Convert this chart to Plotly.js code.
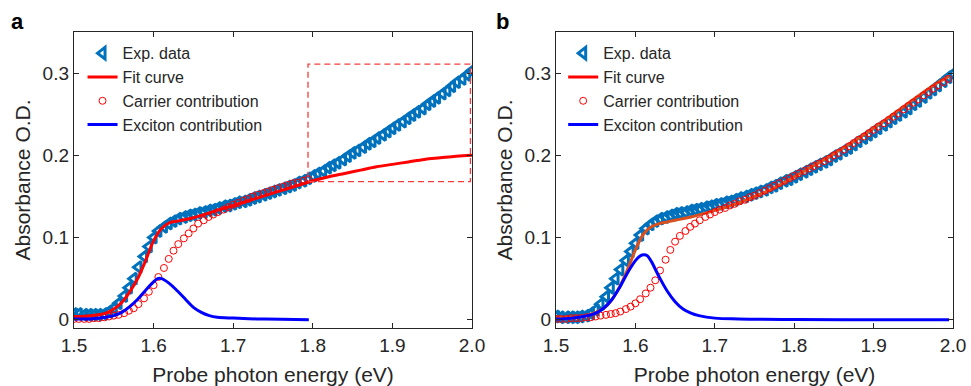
<!DOCTYPE html>
<html>
<head>
<meta charset="utf-8">
<script src="https://cdn.plot.ly/plotly-3.0.1.min.js"></script>
<style>html,body{margin:0;padding:0;background:#fff;}#chart{width:971px;height:386px;}</style>
</head>
<body>
<div id="chart"></div>
<script>
// ---------- data ----------
const energy = [1.500,1.506,1.513,1.519,1.525,1.531,1.538,1.544,1.550,1.556,1.563,1.569,1.575,1.581,1.588,1.594,
  1.600,1.606,1.613,1.619,1.625,1.631,1.638,1.644,1.650,1.656,1.663,1.669,1.675,1.681,1.688,1.694,
  1.700,1.706,1.713,1.719,1.725,1.731,1.738,1.744,1.750,1.756,1.763,1.769,1.775,1.781,1.788,1.794,
  1.800,1.806,1.813,1.819,1.825,1.831,1.838,1.844,1.850,1.856,1.863,1.869,1.875,1.881,1.888,1.894,
  1.900,1.906,1.913,1.919,1.925,1.931,1.938,1.944,1.950,1.956,1.963,1.969,1.975,1.981,1.988,1.994,2.000];

// Panel a
const expA = [0.007,0.007,0.006,0.006,0.006,0.006,0.007,0.010,0.014,0.020,0.029,0.039,0.050,0.064,0.077,0.089,
  0.100,0.108,0.113,0.117,0.120,0.123,0.125,0.127,0.128,0.130,0.131,0.133,0.134,0.136,0.138,0.139,
  0.141,0.143,0.144,0.146,0.148,0.150,0.152,0.154,0.156,0.158,0.160,0.162,0.164,0.167,0.169,0.172,
  0.175,0.178,0.181,0.185,0.188,0.191,0.195,0.199,0.203,0.206,0.210,0.214,0.217,0.221,0.225,0.229,
  0.233,0.237,0.241,0.245,0.249,0.253,0.257,0.262,0.266,0.270,0.275,0.279,0.284,0.289,0.293,0.298,0.303];

const carrierEnergyA = [1.500,1.506,1.513,1.519,1.525,1.531,1.538,1.544,1.550,1.556,1.563,1.569,1.575,1.581,1.588,1.594,
  1.600,1.606,1.613,1.619,1.625,1.631,1.638,1.644,1.650,1.656,1.663,1.669,1.675,1.681,1.688,1.694,
  1.700,1.706,1.713,1.719,1.725,1.731,1.738,1.744,1.750,1.756,1.763,1.769,1.775,1.781,1.788,1.794];
const carrierA = [0.001,0.001,0.001,0.001,0.002,0.002,0.003,0.004,0.005,0.006,0.008,0.011,0.014,0.019,0.026,0.034,
  0.042,0.052,0.063,0.074,0.084,0.092,0.099,0.105,0.111,0.117,0.121,0.125,0.128,0.131,0.134,0.137,
  0.140,0.142,0.145,0.147,0.150,0.152,0.154,0.156,0.158,0.160,0.162,0.164,0.166,0.167,0.169,0.171];

const fitEnergyA = [1.50,1.51,1.52,1.53,1.54,1.55,1.56,1.57,1.58,1.59,1.60,1.61,1.62,1.63,1.64,1.65,1.66,1.67,1.68,1.69,
  1.70,1.71,1.72,1.73,1.74,1.75,1.76,1.77,1.78,1.79,1.80,1.82,1.84,1.86,1.88,1.90,1.92,1.94,1.96,1.98,2.00];
const fitA = [0.004,0.004,0.005,0.006,0.008,0.013,0.021,0.034,0.050,0.072,0.096,0.111,0.118,0.120,0.122,0.124,0.127,0.130,0.133,0.136,
  0.139,0.142,0.145,0.148,0.151,0.154,0.157,0.160,0.163,0.166,0.169,0.174,0.178,0.182,0.186,0.189,0.192,0.195,0.197,0.199,0.200];

const excEnergyA = [1.50,1.52,1.54,1.55,1.56,1.57,1.58,1.59,1.60,1.605,1.61,1.62,1.63,1.64,1.65,1.66,1.67,1.68,1.70,1.73,1.76,1.795];
const excitonA = [0.001,0.001,0.003,0.005,0.009,0.016,0.025,0.036,0.046,0.050,0.050,0.044,0.035,0.025,0.015,0.009,0.005,0.003,0.002,0.001,0.0005,0.0];

// Panel b
const expB = [0.004,0.003,0.003,0.003,0.003,0.004,0.005,0.008,0.012,0.019,0.028,0.039,0.050,0.061,0.072,0.083,
  0.093,0.103,0.111,0.116,0.120,0.123,0.125,0.127,0.129,0.130,0.131,0.133,0.134,0.135,0.137,0.138,
  0.140,0.141,0.143,0.144,0.146,0.148,0.150,0.152,0.154,0.156,0.158,0.161,0.163,0.166,0.169,0.171,
  0.174,0.177,0.180,0.183,0.186,0.189,0.192,0.195,0.199,0.202,0.206,0.209,0.213,0.217,0.221,0.225,
  0.229,0.233,0.237,0.241,0.245,0.249,0.253,0.257,0.262,0.266,0.271,0.276,0.280,0.285,0.290,0.295,0.299];

const carrierEnergyB = [1.500,1.506,1.513,1.519,1.525,1.531,1.538,1.544,1.550,1.556,1.563,1.569,1.575,1.581,1.588,1.594,
  1.600,1.606,1.613,1.619,1.625,1.631,1.638,1.644,1.650,1.656,1.663,1.669,1.675,1.681,1.688,1.694,
  1.700,1.706,1.713,1.719,1.725,1.731,1.738,1.744,1.750,1.756,1.763,1.769,1.775,1.781,1.788,1.794,
  1.800,1.806,1.813,1.819,1.825,1.831,1.838,1.844,1.850,1.856,1.863,1.869,1.875,1.881,1.888,1.894,
  1.900,1.906,1.913,1.919,1.925,1.931,1.938,1.944,1.950,1.956,1.963,1.969,1.975,1.981,1.988,1.994];
const carrierB = [0.001,0.001,0.001,0.002,0.002,0.002,0.003,0.003,0.004,0.005,0.006,0.007,0.008,0.010,0.013,0.016,
  0.020,0.025,0.032,0.039,0.048,0.060,0.073,0.085,0.095,0.102,0.108,0.113,0.117,0.121,0.125,0.128,
  0.131,0.134,0.136,0.139,0.141,0.144,0.146,0.149,0.151,0.154,0.157,0.160,0.163,0.166,0.169,0.172,
  0.175,0.178,0.181,0.184,0.187,0.190,0.193,0.196,0.200,0.203,0.207,0.211,0.215,0.219,0.223,0.227,
  0.231,0.235,0.239,0.243,0.247,0.251,0.256,0.260,0.264,0.268,0.273,0.277,0.281,0.285,0.289,0.293];

const fitEnergyB = [1.50,1.52,1.53,1.54,1.55,1.56,1.57,1.58,1.59,1.60,1.61,1.62,1.63,1.64,1.65,1.67,1.70,1.73,1.75,1.77,
  1.80,1.82,1.84,1.86,1.88,1.90,1.92,1.94,1.96,1.98,1.995];
const fitB = [0.003,0.003,0.004,0.006,0.009,0.014,0.024,0.040,0.061,0.085,0.104,0.113,0.117,0.119,0.121,0.125,0.133,0.142,0.150,0.158,
  0.174,0.185,0.196,0.208,0.220,0.233,0.247,0.261,0.275,0.288,0.296];

const excEnergyB = [1.50,1.52,1.54,1.55,1.56,1.57,1.58,1.59,1.60,1.605,1.61,1.615,1.62,1.63,1.64,1.65,1.66,1.67,1.68,1.70,1.73,1.80,1.90,1.995];
const excitonB = [0.001,0.002,0.005,0.008,0.014,0.024,0.039,0.057,0.072,0.077,0.079,0.078,0.071,0.052,0.035,0.022,0.013,0.008,0.005,0.002,0.001,0.0003,0.0001,0.0];

const xTicks = [1.5,1.6,1.7,1.8,1.9,2.0];
const yTicks = [0,0.1,0.2,0.3];
const zoomBox = {x0:1.794, x1:1.998, y0:0.168, y1:0.311};

// ---------- styles ----------
const FONT = 'Liberation Sans, Arial, sans-serif';
const BLUE_DATA = '#0072BD';
const RED = '#FF0000';
const BLUE = '#0000FF';
const TXT = '#262626';

function traces(suffix, exp, cE, cY, fE, fY, eE, eY, legendId, fitColor) {
  const xa = 'x' + suffix, ya = 'y' + suffix;
  const out = [
    {x: energy, y: exp, xaxis: xa, yaxis: ya, legend: legendId, name: 'Exp. data', mode: 'markers', type: 'scatter',
     marker: {symbol: 'triangle-left-open', size: 10, color: BLUE_DATA, line: {width: 3, color: BLUE_DATA}}},
  ];
  if (fitColor === RED) {
    out.push({x: fE, y: fY, xaxis: xa, yaxis: ya, legend: legendId, name: 'Fit curve', mode: 'lines', type: 'scatter',
      line: {color: RED, width: 3, shape: 'spline'}});
  } else {
    out.push({x: [null], y: [null], xaxis: xa, yaxis: ya, legend: legendId, name: 'Fit curve', mode: 'lines', type: 'scatter',
      line: {color: RED, width: 3}});
    out.push({x: fE, y: fY, xaxis: xa, yaxis: ya, legend: legendId, showlegend: false, name: 'Fit curve', mode: 'lines', type: 'scatter',
      line: {color: fitColor, width: 3, shape: 'spline'}});
  }
  out.push({x: cE, y: cY, xaxis: xa, yaxis: ya, legend: legendId, name: 'Carrier contribution', mode: 'markers', type: 'scatter',
    marker: {symbol: 'circle-open', size: 7, color: RED, line: {width: 1, color: RED}}});
  out.push({x: eE, y: eY, xaxis: xa, yaxis: ya, legend: legendId, name: 'Exciton contribution', mode: 'lines', type: 'scatter',
    line: {color: BLUE, width: 3, shape: 'spline'}});
  return out;
}

const data = [
  ...traces('', expA, carrierEnergyA, carrierA, fitEnergyA, fitA, excEnergyA, excitonA, 'legend', RED),
  ...traces('2', expB, carrierEnergyB, carrierB, fitEnergyB, fitB, excEnergyB, excitonB, 'legend2', '#D9501E'),
];

function xaxis(domain, anchor) {
  return {domain: domain, anchor: anchor, range: [1.5, 2.0], tickvals: xTicks, tickformat: '.1f',
    ticks: 'inside', ticklen: 5, tickwidth: 1, tickcolor: TXT, showline: true, mirror: 'ticks',
    linecolor: TXT, linewidth: 1.2, showgrid: false, zeroline: false,
    tickfont: {family: FONT, size: 19, color: TXT},
    title: {text: 'Probe photon energy (eV)', font: {family: FONT, size: 21, color: TXT}, standoff: 12}};
}
function yaxis(anchor) {
  return {domain: [0.1503, 0.9171], anchor: anchor, range: [-0.01, 0.35], tickvals: yTicks,
    ticks: 'inside', ticklen: 5, tickwidth: 1, tickcolor: TXT, showline: true, mirror: 'ticks',
    linecolor: TXT, linewidth: 1.2, showgrid: false, zeroline: false,
    tickfont: {family: FONT, size: 19, color: TXT},
    title: {text: 'Absorbance O.D.', font: {family: FONT, size: 21, color: TXT}, standoff: 6}};
}
const legendStyle = (x) => ({x: x, xanchor: 'left', y: 0.906, yanchor: 'top', bgcolor: 'rgba(0,0,0,0)',
  borderwidth: 0, font: {family: FONT, size: 16, color: TXT}, traceorder: 'normal'});

const layout = {
  width: 971, height: 386,
  margin: {l: 0, r: 0, t: 0, b: 0},
  paper_bgcolor: '#fff', plot_bgcolor: '#fff',
  showlegend: true,
  xaxis: xaxis([0.0762, 0.4861], 'y'),
  yaxis: yaxis('x'),
  xaxis2: xaxis([0.5726, 0.9815], 'y2'),
  yaxis2: yaxis('x2'),
  legend: legendStyle(0.085),
  legend2: legendStyle(0.580),
  shapes: [{type: 'rect', xref: 'x', yref: 'y', x0: zoomBox.x0, x1: zoomBox.x1, y0: zoomBox.y0, y1: zoomBox.y1,
    line: {color: 'rgb(245,60,60)', width: 1.3, dash: '6px,4px'}}],
  annotations: [
    {text: '<b>a</b>', xref: 'paper', yref: 'paper', x: 9/971, y: 1 - 7/386, xanchor: 'left', yanchor: 'top',
     showarrow: false, font: {family: FONT, size: 22, color: '#000'}},
    {text: '<b>b</b>', xref: 'paper', yref: 'paper', x: 494/971, y: 1 - 7/386, xanchor: 'left', yanchor: 'top',
     showarrow: false, font: {family: FONT, size: 22, color: '#000'}}
  ]
};

Plotly.newPlot('chart', data, layout, {displayModeBar: false, staticPlot: true});
</script>
</body>
</html>
